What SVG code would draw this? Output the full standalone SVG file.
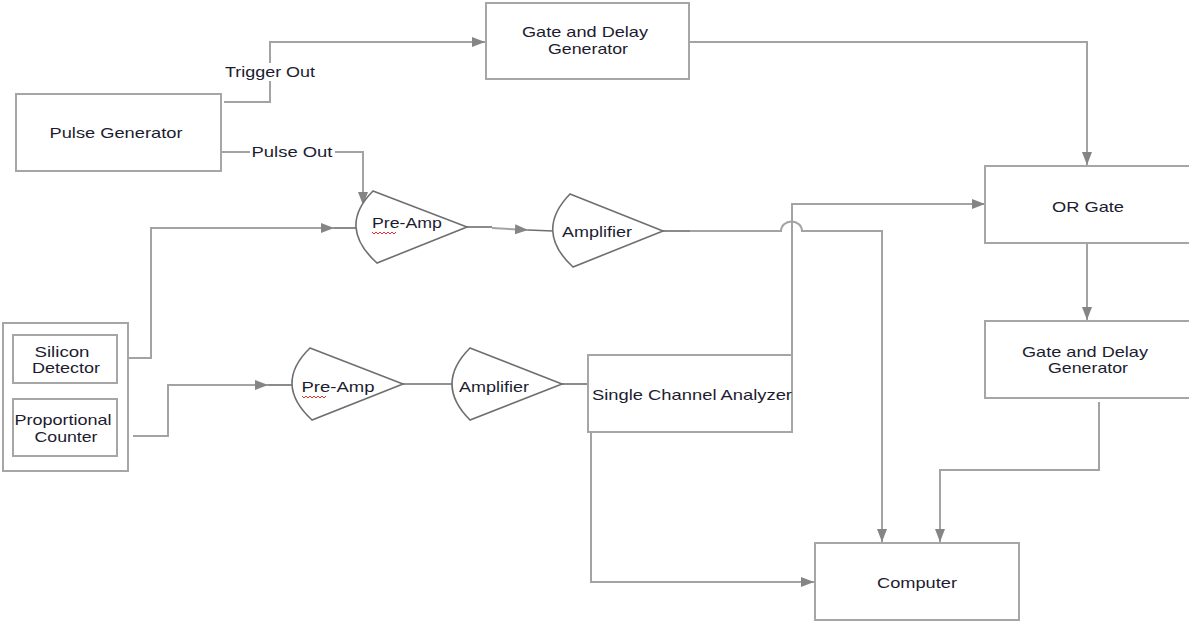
<svg xmlns="http://www.w3.org/2000/svg" width="1189" height="625" viewBox="0 0 1189 625">
<defs>
<style>
.box{fill:#fff;stroke:#a6a6a6;stroke-width:2}
.amp{fill:#fff;stroke:#6e6e6e;stroke-width:1.6}
.ln{fill:none;stroke:#a3a3a3;stroke-width:2}
.dk{fill:none;stroke:#6e6e6e;stroke-width:1.6}
.t{font-family:"Liberation Sans",Arial,sans-serif;font-size:15px;fill:#1c1c30;text-anchor:middle}
.sq{fill:none;stroke:#e03030;stroke-width:1}
.lbl{fill:#fff}
</style>
<marker id="ar" markerUnits="userSpaceOnUse" markerWidth="14" markerHeight="11" refX="13" refY="5" orient="auto">
<path d="M0,0 L13,5 L0,10 z" fill="#858585"/>
</marker>
</defs>
<rect width="1189" height="625" fill="#fff"/>

<g id="connectors">
<polyline class="ln" points="224,102 270,102 270,42 485,42" marker-end="url(#ar)"/>
<polyline class="ln" points="221,152 363,152 363,205" marker-end="url(#ar)"/>
<polyline class="ln" points="689,42 1087,42 1087,165" marker-end="url(#ar)"/>
<polyline class="ln" points="1087,243 1087,320" marker-end="url(#ar)"/>
<polyline class="ln" points="1099,402 1099,470 940,470 940,542" marker-end="url(#ar)"/>
<polyline class="ln" points="118,358 151,358 151,228 334,228" marker-end="url(#ar)"/>
<line class="dk" x1="334" y1="228" x2="356" y2="228"/>
<polyline class="ln" points="133,436 168,436 168,385 268,385" marker-end="url(#ar)"/>
<line class="dk" x1="268" y1="385" x2="292" y2="385"/>
<line class="dk" x1="467" y1="227" x2="492" y2="227"/>
<polyline class="ln" points="492,228 528,230" marker-end="url(#ar)"/>
<line class="dk" x1="528" y1="230" x2="553" y2="231"/>
<line class="dk" x1="663" y1="231" x2="690" y2="231"/>
<path class="ln" d="M690,231 L781,231 A10,9 0 0 1 802,231 L882,231 L882,542" marker-end="url(#ar)"/>
<polyline class="ln" points="792,355 792,204 985,204" marker-end="url(#ar)"/>
<line class="dk" x1="403" y1="384" x2="452" y2="384"/>
<line class="dk" x1="562" y1="384" x2="591" y2="384"/>
<polyline class="ln" points="591,384 591,582 814,582" marker-end="url(#ar)"/>
<rect class="lbl" x="222" y="63" width="96" height="18"/>
<text class="t" x="270" y="77" textLength="90" lengthAdjust="spacingAndGlyphs">Trigger Out</text>
<rect class="lbl" x="250" y="144" width="85" height="17"/>
<text class="t" x="292" y="157" textLength="81" lengthAdjust="spacingAndGlyphs">Pulse Out</text>
</g>

<g id="pulse-generator">
<rect class="box" x="16" y="94" width="205" height="77"/>
<text class="t" x="116" y="138" textLength="133" lengthAdjust="spacingAndGlyphs">Pulse Generator</text>
</g>

<g id="gate-delay-top">
<rect class="box" x="486" y="3" width="203" height="76"/>
<text class="t" x="585" y="37" textLength="126" lengthAdjust="spacingAndGlyphs">Gate and Delay</text>
<text class="t" x="588" y="54" textLength="80" lengthAdjust="spacingAndGlyphs">Generator</text>
</g>

<g id="or-gate">
<rect class="box" x="985" y="166" width="205" height="77"/>
<text class="t" x="1088" y="212" textLength="72" lengthAdjust="spacingAndGlyphs">OR Gate</text>
</g>

<g id="gate-delay-right">
<rect class="box" x="985" y="321" width="205" height="77"/>
<text class="t" x="1085" y="357" textLength="126" lengthAdjust="spacingAndGlyphs">Gate and Delay</text>
<text class="t" x="1088" y="373" textLength="80" lengthAdjust="spacingAndGlyphs">Generator</text>
</g>

<g id="computer">
<rect class="box" x="815" y="543" width="204" height="77"/>
<text class="t" x="917" y="588" textLength="80" lengthAdjust="spacingAndGlyphs">Computer</text>
</g>

<g id="sca">
<rect class="box" x="588" y="355" width="204" height="77"/>
<text class="t" x="692" y="400" textLength="200" lengthAdjust="spacingAndGlyphs">Single Channel Analyzer</text>
</g>

<g id="detectors">
<rect class="box" x="3" y="323" width="125" height="148"/>
<g id="silicon-detector">
<rect class="box" x="13" y="335" width="104" height="48"/>
<text class="t" x="62" y="357" textLength="55" lengthAdjust="spacingAndGlyphs">Silicon</text>
<text class="t" x="66" y="373" textLength="68" lengthAdjust="spacingAndGlyphs">Detector</text>
</g>
<g id="proportional-counter">
<rect class="box" x="13" y="399" width="104" height="57"/>
<text class="t" x="63" y="425" textLength="97" lengthAdjust="spacingAndGlyphs">Proportional</text>
<text class="t" x="66" y="442" textLength="63" lengthAdjust="spacingAndGlyphs">Counter</text>
</g>
</g>

<g id="pre-amp-1">
<path class="amp" d="M373,191 L467,227 L377,263 Q337,227 373,191 z"/>
<text class="t" x="407" y="228" textLength="70" lengthAdjust="spacingAndGlyphs">Pre-Amp</text>
<path class="sq" d="M372,232 l2,2 l2,-2 l2,2 l2,-2 l2,2 l2,-2 l2,2 l2,-2 l2,2 l2,-2 l2,2 l2,-2"/>
</g>

<g id="amplifier-1">
<path class="amp" d="M570,194 L663,231 L573,267 Q534,231 570,194 z"/>
<text class="t" x="597" y="237" textLength="70" lengthAdjust="spacingAndGlyphs">Amplifier</text>
</g>

<g id="pre-amp-2">
<path class="amp" d="M310,348 L403,384 L312,420 Q273,384 310,348 z"/>
<text class="t" x="338" y="392" textLength="73" lengthAdjust="spacingAndGlyphs">Pre-Amp</text>
<path class="sq" d="M302,396 l2,2 l2,-2 l2,2 l2,-2 l2,2 l2,-2 l2,2 l2,-2 l2,2 l2,-2 l2,2 l2,-2"/>
</g>

<g id="amplifier-2">
<path class="amp" d="M470,348 L562,384 L470,420 Q434,384 470,348 z"/>
<text class="t" x="494" y="392" textLength="70" lengthAdjust="spacingAndGlyphs">Amplifier</text>
</g>
</svg>
